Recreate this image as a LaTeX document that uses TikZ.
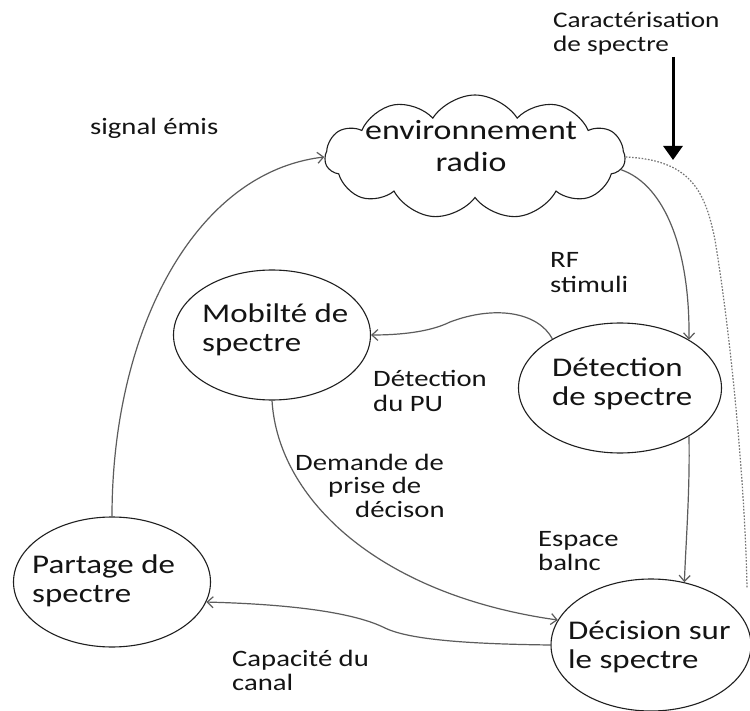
\documentclass[tikz,border=0pt]{standalone}
\usepackage{fontspec}
\usetikzlibrary{shapes.geometric,shapes.symbols,arrows.meta}
\newfontfamily\lbl[FakeStretch=1.22]{Carlito}
% two-line block whose reference point is the baseline of the first line
\newcommand\twolines[3][l]{\begin{tabular}[t]{@{}#1@{}}#2\\#3\end{tabular}}
\newcommand\threelines[3]{\begin{tabular}[t]{@{}l@{}}#1\\\hspace*{33pt}#2\\\hspace*{60pt}#3\end{tabular}}

\begin{document}
\begin{tikzpicture}[x=1pt,y=-1pt,
  bubble/.style={draw=black!88, line width=1.1pt, ellipse, inner sep=0pt,
                 minimum height=130pt},
  bigtxt/.style={anchor=base west, inner sep=0pt, text=black!92,
                 font=\lbl\fontsize{27}{29}\selectfont},
  smalltxt/.style={anchor=base west, inner sep=0pt, text=black!92,
                 font=\lbl\fontsize{23.5}{24.5}\selectfont},
  conn/.style={draw=black!64, line width=1.2pt,
               -{Straight Barb[length=6pt,width=11pt]}},
  hint/.style={draw=black!55, line width=1.2pt, dash pattern=on 1.6pt off 1.6pt}
]
\useasboundingbox (0,0) rectangle (750,711);
\fill[white] (0,0) rectangle (750,711);

% the radio environment
\node[cloud, draw=black!88, line width=1.1pt, cloud puffs=11, cloud puff arc=115,
      cloud ignores aspect, minimum width=300pt, minimum height=124pt,
      inner sep=0pt] (cloud) at (475,157) {};
\node[anchor=base, inner sep=0pt, text=black!92,
      font=\lbl\fontsize{27.8}{32}\selectfont] (cloudtxt) at (471,140)
      {\twolines[c]{environnement}{radio}};

% the four functions
\node[bubble, minimum width=197pt] (mob) at (272,335) {};
\node[bubble, minimum width=203pt] (det) at (620,388) {};
\node[bubble, minimum width=197pt] (par) at (112,582) {};
\node[bubble, minimum width=200pt, minimum height=132pt] (dec) at (651,645) {};

\node[bigtxt] (mobtxt) at (202,323) {\twolines{Mobilté de}{spectre}};
\node[bigtxt] (dettxt) at (552,377) {\twolines{Détection}{de spectre}};
\node[bigtxt] (partxt) at (32,573) {\twolines{Partage de}{spectre}};
\node[bigtxt] (dectxt) at (568,639) {\twolines{Décision sur}{le spectre}};

% edge labels
\node[smalltxt, font=\lbl\fontsize{22.3}{24}\selectfont] (carac) at (553,28)
      {\twolines{Caractérisation}{de spectre}};
\node[smalltxt] (emis) at (90,135) {signal émis};
\node[smalltxt] (rf) at (550,268) {\twolines{RF}{stimuli}};
\node[smalltxt] (pu) at (373,387) {\twolines{Détection}{du PU}};
\node[smalltxt, font=\lbl\fontsize{23.5}{23.5}\selectfont] (dem) at (295,470)
      {\threelines{Demande de}{prise de}{décison}};
\node[smalltxt] (blanc) at (538,546) {\twolines{Espace}{balnc}};
\node[smalltxt] (capa) at (232,666) {\twolines{Capacité du}{canal}};

% characterisation input
\coordinate (cartop) at (673,57);
\coordinate (carbot) at (673,160);
\draw[line width=3pt, -{Triangle[length=14pt,width=19pt]}] (cartop) -- (carbot);

% connectors
\draw[conn] (par.north) .. controls (112,330) and (195,172) .. (cloud.west);
\draw[conn] (cloud.-5) .. controls (665,185) and (690,250) .. (det.35);
\coordinate (decne) at (747,588);
\draw[hint] (cloud.east) .. controls (690,160) and (705,190) .. (715,240)
            .. controls (730,330) and (745,480) .. (decne);
\draw[conn] (det.144) .. controls (538,312) and (495,305) .. (450,322)
            .. controls (430,332) and (400,335) .. (mob.east);
\draw[conn] (det.-35) .. controls (690,490) and (686,540) .. (dec.62);
\draw[conn] (mob.south) .. controls (278,500) and (380,595) .. (dec.165);
\draw[conn] (dec.west) .. controls (470,644) and (410,640) .. (385,628)
            .. controls (365,618) and (320,605) .. (par.-12);
\end{tikzpicture}
\end{document}
